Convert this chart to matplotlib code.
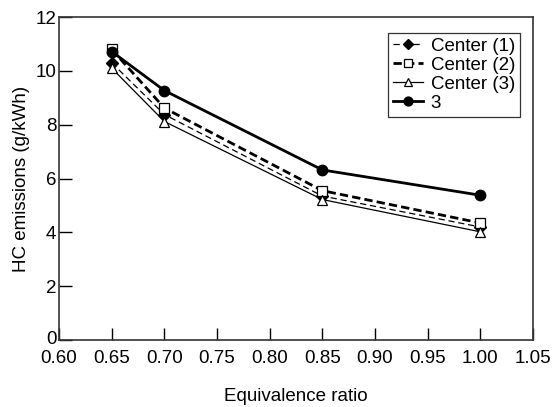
import matplotlib
matplotlib.use("Agg")
import matplotlib.pyplot as plt
import matplotlib.transforms as mtransforms

plt.rcParams['font.family'] = ['Liberation Sans', 'DejaVu Sans']

x = [0.65, 0.70, 0.85, 1.00]
center1 = [10.30, 8.38, 5.35, 4.20]
center2 = [10.80, 8.62, 5.55, 4.35]
center3 = [10.10, 8.12, 5.22, 4.02]
three = [10.72, 9.27, 6.32, 5.38]

xticks = [0.60, 0.65, 0.70, 0.75, 0.80, 0.85, 0.90, 0.95, 1.00, 1.05]
yticks = [0, 2, 4, 6, 8, 10, 12]

fig = plt.figure(figsize=(5.52, 4.07), dpi=100)
ax = fig.add_axes([0.107, 0.1646, 0.8586, 0.7934])

ax.plot(x, center1, color='black', lw=0.9, ls=(0, (5, 3)), marker='D', ms=6.5,
        mfc='black', mec='black', label='Center (1)')
ax.plot(x, center2, color='black', lw=2.0, ls=(0, (3, 1.5)), marker='s', ms=7,
        mfc='white', mec='black', mew=0.9, label='Center (2)')
ax.plot(x, center3, color='black', lw=0.9, ls='-', marker='^', ms=7.5,
        mfc='white', mec='black', mew=0.9, label='Center (3)')
ax.plot(x, three, color='black', lw=2.0, ls='-', marker='o', ms=7.5,
        mfc='black', mec='black', label='3')

ax.set_xlim(0.60, 1.05)
ax.set_ylim(0, 12)
ax.set_xticks(xticks)
ax.set_xticklabels([f"{v:.2f}" for v in xticks])
ax.set_yticks(yticks)
ax.tick_params(direction='in', length=9, width=1, labelsize=13.5, colors='black',
               top=False, right=False)
ax.tick_params(axis='x', pad=7)
ax.tick_params(axis='y', pad=2)
for s in ax.spines.values():
    s.set_color('#333333')
    s.set_linewidth(1.2)

fig.canvas.draw()
lab0 = ax.get_yticklabels()[0]
lab0.set_transform(lab0.get_transform() +
                   mtransforms.ScaledTranslation(0, 3 / 100, fig.dpi_scale_trans))

ax.set_xlabel('Equivalence ratio', fontsize=13.5, labelpad=15)
ax.set_ylabel('HC emissions (g/kWh)', fontsize=13.5, labelpad=4)

leg = ax.legend(loc='upper right', bbox_to_anchor=(0.972, 0.95), fontsize=13.5,
                handlelength=1.6, handletextpad=0.4, labelspacing=0.1,
                borderpad=0.25, frameon=True, fancybox=False, borderaxespad=0,
                markerscale=0.85)
leg.get_frame().set_edgecolor('black')
leg.get_frame().set_linewidth(0.9)

fig.savefig('out.png', dpi=100)
